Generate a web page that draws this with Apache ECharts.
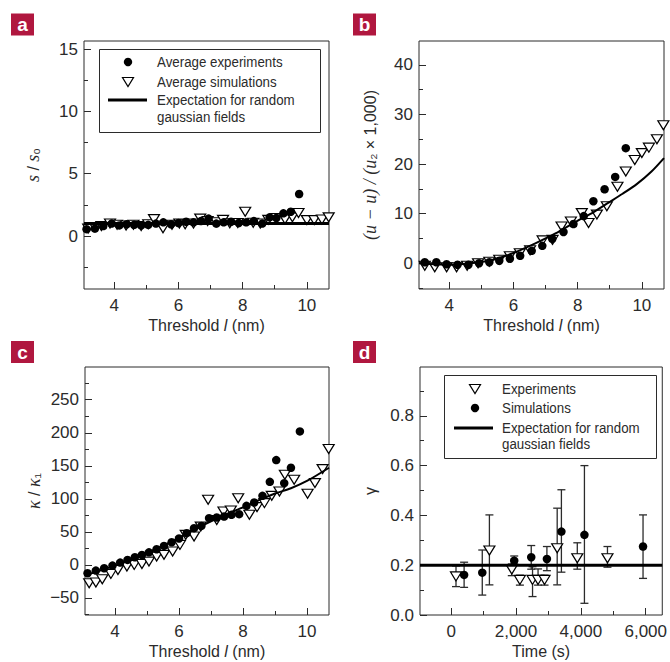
<!DOCTYPE html>
<html><head><meta charset="utf-8">
<script src="https://cdn.jsdelivr.net/npm/echarts@6/dist/echarts.min.js"></script>
<style>html,body{margin:0;padding:0;background:#fff}#c{width:670px;height:662px}</style>
</head><body><div id="c"></div>
<script>
// ---------- Panel a : s / s0 ----------
const aExpX = [3.14,3.40,3.66,3.92,4.16,4.39,4.62,4.84,5.06,5.30,5.53,5.77,6.00,6.24,6.47,6.70,6.94,7.18,7.41,7.64,7.88,8.11,8.35,8.61,8.84,9.05,9.27,9.50,9.76];
const aExpY = [0.55,0.6,0.8,1.0,0.85,0.95,0.9,0.85,0.9,1.0,1.1,0.95,1.05,1.15,1.1,1.2,1.4,1.0,1.1,1.15,1.05,1.1,1.2,1.0,1.5,1.45,1.82,1.95,3.37];
const aSimX = [3.19,3.40,3.60,3.87,4.09,4.37,4.60,4.84,5.06,5.24,5.52,5.80,6.03,6.21,6.47,6.68,6.91,7.18,7.39,7.60,7.85,8.08,8.33,8.55,8.80,9.05,9.32,9.55,9.74,10.0,10.23,10.47,10.68];
const aSimY = [0.6,0.7,0.8,1.0,0.9,0.85,0.9,0.8,0.95,1.36,0.62,0.9,1.0,0.95,1.0,1.4,1.2,1.1,1.3,1.02,1.05,1.95,1.07,1.0,1.3,1.45,1.34,1.5,1.85,1.28,1.28,1.33,1.5];
const aLineX = [3.06,10.69];
const aLineY = [1,1];
// ---------- Panel b ----------
const bExpX = [3.24,3.60,3.92,4.26,4.60,4.93,5.25,5.56,5.89,6.21,6.57,6.90,7.21,7.56,7.87,8.19,8.49,8.84,9.17,9.50];
const bExpY = [0.2,0.2,-0.2,-0.3,-0.3,0,0.2,0.5,0.9,1.5,2.5,3.5,4.9,6.3,7.9,9.5,12.5,14.9,17.4,23.2];
const bSimX = [3.24,3.55,3.92,4.23,4.56,4.90,5.25,5.56,5.89,6.20,6.52,6.91,7.22,7.50,7.79,8.13,8.34,8.60,8.91,9.24,9.50,9.78,10.0,10.22,10.47,10.67];
const bSimY = [-0.5,-0.8,-0.8,-0.8,-0.5,0,0.3,0.7,1.4,2.0,2.6,4.6,4.7,7.4,8.4,10.1,8.1,9.8,11.5,15.4,18.5,20.8,22.2,23.3,25.0,27.8];
const bLineX = [3.06,4.0,4.65,5.3,5.98,6.65,7.31,7.98,8.5,8.91,9.4,9.85,10.3,10.69];
const bLineY = [0,-0.3,0,0.6,2.0,3.9,6.0,8.5,10.3,12.0,14.0,16.0,18.5,21.2];
// ---------- Panel c ----------
const cExpX = [3.14,3.40,3.66,3.92,4.16,4.39,4.62,4.84,5.06,5.30,5.53,5.77,6.00,6.24,6.47,6.70,6.94,7.18,7.41,7.64,7.88,8.11,8.35,8.61,8.84,9.04,9.29,9.50,9.78];
const cExpY = [-12.6,-8.6,-5,-1,3.5,7.6,11.6,15,19,23.7,28.8,34.3,40,48,55.6,59,70.7,71.7,73.2,75.8,76.8,89.4,94.4,104.5,125.7,158.6,123.7,147,202];
const cSimX = [3.19,3.40,3.60,3.87,4.09,4.37,4.60,4.84,5.06,5.30,5.53,5.80,6.03,6.21,6.47,6.68,6.91,7.18,7.39,7.62,7.85,8.20,8.44,8.67,8.90,9.14,9.31,9.60,10.02,10.25,10.49,10.68];
const cSimY = [-27.8,-26.7,-21.7,-13.6,-7.6,-2.5,0,1.5,5,12.6,15.2,20.2,30.3,45.5,42.9,58,98.5,68,80.8,82.3,101,75.8,87.4,93.5,104.5,111,136.4,128.8,107.6,123.8,145,175.3];
const cLineX = [3.06,3.5,4,4.5,5,5.5,6,6.5,7,7.5,8,8.5,9,9.5,10,10.69];
const cLineY = [-16,-9,-1,8,18,29,41,54,66,77,87,98,108,116,127,147];
// ---------- Panel d ----------
const dExpT  = [150,1180,1870,2120,2510,2680,2880,3270,3890,4820];
const dExpG  = [0.155,0.259,0.183,0.141,0.141,0.141,0.141,0.268,0.228,0.228];
const dExpLo = [0.114,0.121,0.158,0.120,0.074,0.120,0.120,0.121,0.184,0.192];
const dExpHi = [0.197,0.402,0.205,0.160,0.194,0.185,0.160,0.429,0.290,0.275];
const dSimT  = [400,960,1945,2470,2953,3400,4110,5917];
const dSimG  = [0.161,0.170,0.218,0.232,0.225,0.335,0.322,0.275];
const dSimLo = [0.111,0.080,0.205,0.184,0.178,0.172,0.047,0.147];
const dSimHi = [0.212,0.261,0.237,0.279,0.275,0.503,0.600,0.402];
const dLineT = [-960,6510];
const dLineG = [0.2,0.2];

// ---------- tick values ----------
const threshMajor = [4,6,8,10], threshMinor = [5,7,9];
const aYMajor = [0,5,10,15], aYMinor = [-2.5,2.5,7.5,12.5];
const bYMajor = [0,10,20,30,40], bYMinor = [-5,5,15,25,35];
const cYMajor = [-50,0,50,100,150,200,250], cYMinor = [-75,-25,25,75,125,175,225,275];
const dXMajor = [0,2000,4000,6000], dXMinor = [1000,3000,5000];
const dYMajor = [0,0.2,0.4,0.6,0.8], dYMinor = [0.1,0.3,0.5,0.7,0.9];

const FONT = "'Liberation Sans',Arial,sans-serif";
const SERIF = "'Liberation Serif','DejaVu Serif',serif";
const INK = '#2b2b2b';
const MARK = '#000';
const zip = (a,b) => a.map((v,i)=>[v,b[i]]);

function mainAxis(g, pos, min, max, vals, fmt, name, gap, rich){
  return {type:'value', gridIndex:g, position:pos, min, max,
    axisLine:{show:false, onZero:false}, splitLine:{show:false},
    axisTick:{show:true, inside:true, length:7, customValues:vals, lineStyle:{color:INK, width:1}},
    axisLabel:{customValues:vals, formatter:fmt, fontSize:17, color:INK, fontFamily:FONT, margin:pos==='left'?6:8},
    name, nameLocation:'middle', nameGap:gap,
    nameTextStyle:{fontSize:16, color:INK, fontFamily:FONT, rich: rich||{}}};
}
function minorAxis(g, pos, min, max, vals){
  return {type:'value', gridIndex:g, position:pos, min, max,
    axisLine:{show:false, onZero:false}, splitLine:{show:false}, axisLabel:{show:false},
    axisTick:{show:true, inside:true, length:4, customValues:vals, lineStyle:{color:INK, width:1}}};
}
const itRich = {i:{fontStyle:'italic', fontSize:16, fontFamily:FONT, color:INK},
                s:{fontStyle:'italic', fontSize:18, fontFamily:SERIF, color:INK}};
const num = v => String(v).replace('-', '\u2212');
const comma = v => v===0 ? '0' : v.toLocaleString('en-US');
const fix1 = v => v.toFixed(1);
const XMIN = 3.06, XMAX = 10.69;
const threshName = 'Threshold {i|l} (nm)';

const xAxis = [
  mainAxis(0,'bottom',XMIN,XMAX,threshMajor,num,threshName,28,itRich), minorAxis(0,'bottom',XMIN,XMAX,threshMinor),
  mainAxis(1,'bottom',XMIN,XMAX,threshMajor,num,threshName,28,itRich), minorAxis(1,'bottom',XMIN,XMAX,threshMinor),
  mainAxis(2,'bottom',XMIN,XMAX,threshMajor,num,threshName,28,itRich), minorAxis(2,'bottom',XMIN,XMAX,threshMinor),
  mainAxis(3,'bottom',-960,6510,dXMajor,comma,'Time (s)',28), minorAxis(3,'bottom',-960,6510,dXMinor)
];
const yAxis = [
  mainAxis(0,'left',-4.25,15.65,aYMajor,num,'{s|s} / {s|s}\u2080',42,itRich), minorAxis(0,'left',-4.25,15.65,aYMinor),
  mainAxis(1,'left',-5.2,44.8,bYMajor,num,'{s|(u \u2212 u) / (u}\u2082 \u00d7 1,000)',40,itRich), minorAxis(1,'left',-5.2,44.8,bYMinor),
  mainAxis(2,'left',-75.8,299.5,cYMajor,num,'{s|\u03ba} / {s|\u03ba}\u2081',42,itRich), minorAxis(2,'left',-75.8,299.5,cYMinor),
  mainAxis(3,'left',0,0.996,dYMajor,fix1,'\u03b3',42), minorAxis(3,'left',0,0.996,dYMinor)
];

function dots(g, x, y){ return {type:'scatter', xAxisIndex:2*g, yAxisIndex:2*g, data:zip(x,y), symbol:'circle', symbolSize:8.5, itemStyle:{color:MARK, opacity:1}, z:4, silent:true}; }
function tris(g, x, y){ return {type:'scatter', xAxisIndex:2*g, yAxisIndex:2*g, data:zip(x,y), symbol:'triangle', symbolRotate:180, symbolSize:[11,9], itemStyle:{color:'#fff', borderColor:MARK, borderWidth:1.2, opacity:1}, z:3, silent:true}; }
function curve(g, x, y, w){ return {type:'line', xAxisIndex:2*g, yAxisIndex:2*g, data:zip(x,y), symbol:'none', smooth:0.3, lineStyle:{color:MARK, width:w}, z:5, silent:true}; }
function errs(g, x, lo, hi){
  return {type:'custom', xAxisIndex:2*g, yAxisIndex:2*g, data:x.map((v,i)=>[v,lo[i],hi[i]]), z:2, silent:true,
    encode:{x:0, y:[1,2]},
    renderItem:(p, api)=>{
      const a = api.coord([api.value(0), api.value(1)]), b = api.coord([api.value(0), api.value(2)]);
      const w = 4, st = {stroke:INK, lineWidth:1.3};
      return {type:'group', children:[
        {type:'line', shape:{x1:a[0],y1:a[1],x2:b[0],y2:b[1]}, style:st},
        {type:'line', shape:{x1:a[0]-w,y1:a[1],x2:a[0]+w,y2:a[1]}, style:st},
        {type:'line', shape:{x1:b[0]-w,y1:b[1],x2:b[0]+w,y2:b[1]}, style:st}
      ]};
    }};
}

const series = [
  tris(0,aSimX,aSimY), dots(0,aExpX,aExpY), curve(0,aLineX,aLineY,3),
  tris(1,bSimX,bSimY), dots(1,bExpX,bExpY), curve(1,bLineX,bLineY,2),
  tris(2,cSimX,cSimY), dots(2,cExpX,cExpY), curve(2,cLineX,cLineY,2),
  errs(3,dExpT,dExpLo,dExpHi), errs(3,dSimT,dSimLo,dSimHi),
  tris(3,dExpT,dExpG), dots(3,dSimT,dSimG), curve(3,dLineT,dLineG,3)
];

const grid = [
  {left:84, top:41, width:245, height:248},
  {left:419, top:41, width:245, height:248},
  {left:85, top:367, width:244, height:248},
  {left:420, top:367, width:247, height:248}
].map(g=>Object.assign(g,{show:true, borderColor:INK, borderWidth:1, backgroundColor:'transparent'}));

const RED = '#b0173f';
function tag(letter, x, y){
  return [{type:'rect', shape:{x, y, width:23, height:22}, style:{fill:RED}, z:10},
          {type:'text', x:x+11.5, y:y+11, style:{text:letter, fill:'#fff', font:"bold 19px "+FONT, align:'center', verticalAlign:'middle'}, z:11}];
}
function txt(s, x, y){ return {type:'text', x, y, scaleX:0.86, style:{text:s, fill:INK, font:"15.5px "+FONT, align:'left', verticalAlign:'middle'}, z:11}; }
function triIcon(cx, cy){ return {type:'polygon', shape:{points:[[cx-5.5,cy-4.5],[cx+5.5,cy-4.5],[cx,cy+4.5]]}, style:{fill:'#fff', stroke:MARK, lineWidth:1.2}, z:11}; }
function dotIcon(cx, cy){ return {type:'circle', shape:{cx, cy, r:4.2}, style:{fill:MARK}, z:11}; }
function lineIcon(x1, x2, y){ return {type:'line', shape:{x1, y1:y, x2, y2:y}, style:{stroke:MARK, lineWidth:3}, z:11}; }

const graphic = [
  ...tag('a',11,13.5), ...tag('b',353,13.5), ...tag('c',11,341), ...tag('d',353,341),
  {type:'rect', shape:{x:99.5, y:49.5, width:221, height:83}, style:{fill:'#fff', stroke:INK, lineWidth:1}, z:10},
  dotIcon(128,62), triIcon(128,82), lineIcon(108,147,100),
  txt('Average experiments',157,62), txt('Average simulations',157,82),
  txt('Expectation for random',157,100), txt('gaussian fields',157,117),
  {type:'rect', shape:{x:444.5, y:375.5, width:212, height:83}, style:{fill:'#fff', stroke:INK, lineWidth:1}, z:10},
  triIcon(475,389), dotIcon(475,408), lineIcon(454,493,428),
  txt('Experiments',502,389), txt('Simulations',502,408),
  txt('Expectation for random',502,428), txt('gaussian fields',502,444)
];

const chart = echarts.init(document.getElementById('c'), null, {renderer:'svg'});
chart.setOption({animation:false, backgroundColor:'#fff', textStyle:{fontFamily:FONT},
  grid, xAxis, yAxis, series, graphic});
</script></body></html>
